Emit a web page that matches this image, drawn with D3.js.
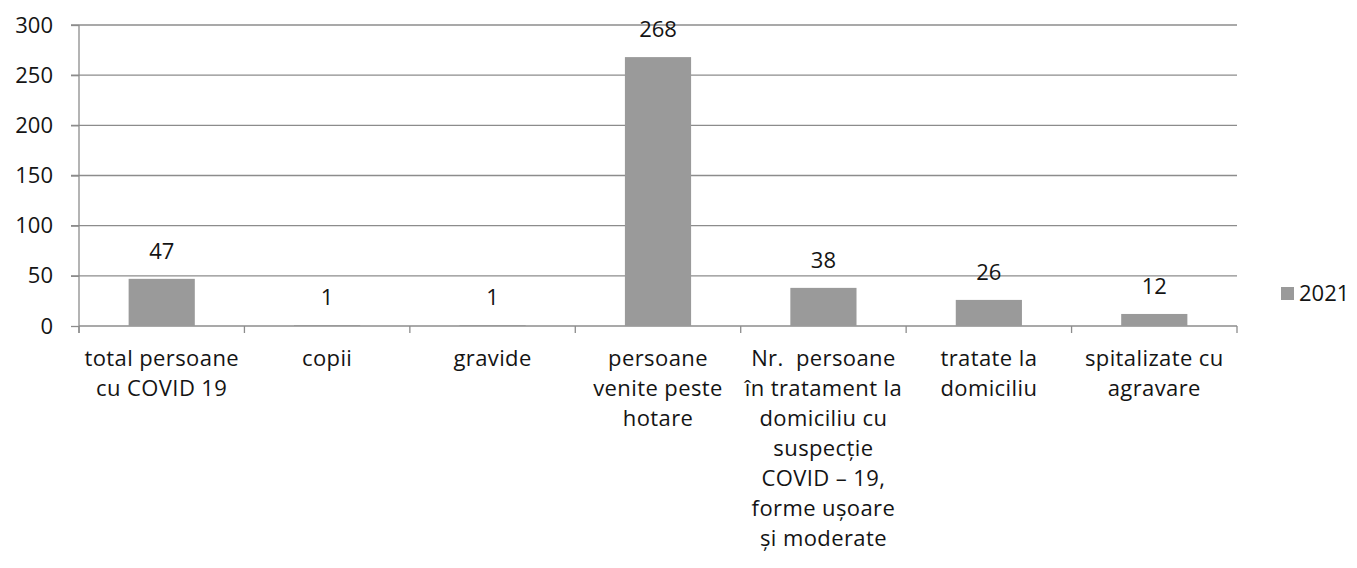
<!DOCTYPE html>
<html>
<head>
<meta charset="utf-8">
<script src="https://cdn.jsdelivr.net/npm/d3@7"></script>
<style>
  body { margin: 0; background: #fff; }
  svg { font-family: "Open Sans", Lato, sans-serif; }
  text { white-space: pre; }
</style>
</head>
<body>
<svg id="chart"></svg>
<script>
const width = 1357, height = 568;

// data
const categories = [
    "total persoane\ncu COVID 19",
    "copii",
    "gravide",
    "persoane\nvenite peste\nhotare",
    "Nr.  persoane\nîn tratament la\ndomiciliu cu\nsuspecție\nCOVID – 19,\nforme ușoare\nși moderate",
    "tratate la\ndomiciliu",
    "spitalizate cu\nagravare"
];
const values2021 = [47, 1, 1, 268, 38, 26, 12];
const yTicks = [0, 50, 100, 150, 200, 250, 300];
const seriesName = "2021";

const margin = {top: 25, right: 120, bottom: 242, left: 79};
const svg = d3.select("#chart").attr("width", width).attr("height", height);
const fs = 22;
const ink = "#141414";

const x = d3.scaleBand()
    .domain(categories)
    .range([margin.left, width - margin.right])
    .paddingInner(0.6)
    .paddingOuter(0.3);

const y = d3.scaleLinear()
    .domain([0, 300])
    .range([height - margin.bottom, margin.top]);

const grey = "#8c8c8c";

// gridlines
svg.append("g")
    .selectAll("line")
    .data(yTicks.slice(1))
    .enter().append("line")
    .attr("x1", margin.left - 8)
    .attr("x2", width - margin.right)
    .attr("y1", d => y(d))
    .attr("y2", d => y(d))
    .attr("stroke", grey)
    .attr("stroke-width", 1.3);

// y axis
const yAxis = svg.append("g")
    .attr("transform", `translate(${margin.left},0)`)
    .call(d3.axisLeft(y).tickValues(yTicks).tickSize(8).tickPadding(18));
yAxis.select(".domain").attr("stroke", grey).attr("stroke-width", 1.3)
    .attr("d", `M0,${y(300)}V${y(0) + 7}`);
yAxis.selectAll(".tick line").attr("stroke", grey).attr("stroke-width", 1.3);
yAxis.selectAll(".tick text")
    .attr("font-size", fs)
    .attr("font-family", "'Open Sans', sans-serif")
    .attr("fill", ink);

// x axis with ticks at category boundaries
const x0 = margin.left, x1 = width - margin.right;
const xg = svg.append("g");
xg.append("line")
    .attr("x1", x0).attr("x2", x1)
    .attr("y1", y(0)).attr("y2", y(0))
    .attr("stroke", grey).attr("stroke-width", 1.3);
xg.selectAll("line.tk")
    .data(d3.range(categories.length + 1))
    .enter().append("line")
    .attr("class", "tk")
    .attr("x1", i => x0 + i * (x1 - x0) / categories.length)
    .attr("x2", i => x0 + i * (x1 - x0) / categories.length)
    .attr("y1", y(0))
    .attr("y2", y(0) + 7)
    .attr("stroke", grey).attr("stroke-width", 1.3);

// category labels
const labels = svg.append("g")
    .selectAll("text")
    .data(categories)
    .enter().append("text")
    .attr("text-anchor", "middle")
    .attr("font-size", fs)
    .attr("letter-spacing", 0.4)
    .attr("fill", ink)
    .attr("transform", d => `translate(${x(d) + x.bandwidth() / 2},${y(0) + 40})`);
labels.selectAll("tspan")
    .data(d => d.split("\n"))
    .enter().append("tspan")
    .attr("x", 0)
    .attr("dy", (d, i) => i === 0 ? 0 : 30)
    .text(d => d);

// bars
svg.append("g")
    .selectAll("rect")
    .data(values2021)
    .enter().append("rect")
    .attr("x", (d, i) => x(categories[i]))
    .attr("y", d => y(d))
    .attr("width", x.bandwidth())
    .attr("height", d => y(0) - y(d))
    .attr("fill", "#9a9a9a");

// value labels
svg.append("g")
    .selectAll("text")
    .data(values2021)
    .enter().append("text")
    .attr("x", (d, i) => x(categories[i]) + x.bandwidth() / 2)
    .attr("y", d => y(d) - 20)
    .attr("text-anchor", "middle")
    .attr("font-size", fs)
    .attr("fill", ink)
    .text(d => d);

// legend
const legend = svg.append("g").attr("transform", `translate(1281,293)`);
legend.append("rect")
    .attr("x", 0).attr("y", -6)
    .attr("width", 13).attr("height", 13)
    .attr("fill", "#9a9a9a");
legend.append("text")
    .attr("x", 18).attr("y", 8)
    .attr("font-size", fs)
    .attr("fill", ink)
    .text(seriesName);
</script>
</body>
</html>
